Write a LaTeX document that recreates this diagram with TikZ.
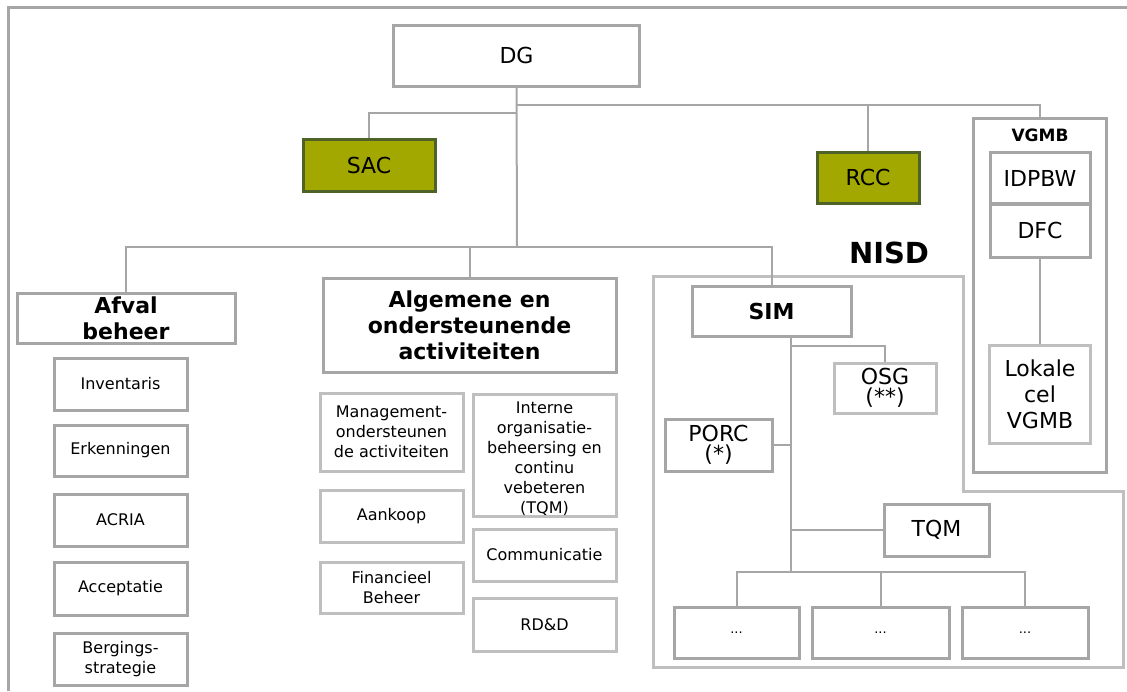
\documentclass[tikz,border=0pt]{standalone}
\usepackage{fontspec}
\setmainfont{DejaVu Sans}
\definecolor{gmid}{HTML}{A6A6A6}
\definecolor{glight}{HTML}{BFBFBF}
\definecolor{olive}{HTML}{A2A800}
\definecolor{olivedark}{HTML}{4F6228}
\tikzset{
  box/.style={draw=gmid, line width=3pt, fill=white, inner sep=0pt, align=center},
  lbox/.style={box, draw=glight},
  big/.style={font=\fontsize{22}{26}\selectfont},
  bigb/.style={font=\fontsize{22}{26}\selectfont\bfseries},
  small/.style={font=\fontsize{16}{20}\selectfont},
  accent/.style={draw=olivedark, line width=3pt, fill=olive, inner sep=0pt, font=\fontsize{22}{26}\selectfont},
  conn/.style={draw=gmid, line width=2pt},
  frame/.style={draw=gmid, line width=3pt},
  nisdframe/.style={draw=glight, line width=3pt},
}
\begin{document}
\begin{tikzpicture}[x=1pt,y=-1pt]
\useasboundingbox (0,0) rectangle (1127,691);
% outer frame
\draw[frame] (8,691) -- (8,7) -- (1127,7);
% NISD frame
\draw[nisdframe] (653,276) -- (963,276) -- (963,491) -- (1123,491) -- (1123,667) -- (653,667) -- cycle;
\node[font=\fontsize{29}{32}\selectfont\bfseries] (nisdlbl) at (889,253) {NISD};
% VGMB frame
\node[box, minimum width=133pt, minimum height=354pt] (vgmb) at (1039.5,295) {};
\node[font=\fontsize{17}{20}\selectfont\bfseries] (vgmblbl) at (1040,135) {VGMB};
\node[box, big, minimum width=100pt, minimum height=51pt] (idp) at (1040,178) {IDPBW};
\node[box, big, minimum width=100pt, minimum height=53pt] (dfc) at (1040,230.5) {DFC};
\node[lbox, big, minimum width=101pt, minimum height=98pt] (lok) at (1040,394) {Lokale\\cel\\VGMB};
% top level
\node[box, big, minimum width=246pt, minimum height=61pt] (dg) at (516.5,55.5) {DG};
\node[accent, minimum width=132pt, minimum height=52pt] (sac) at (369,165) {SAC};
\node[accent, minimum width=102pt, minimum height=51pt] (rcc) at (868,177.5) {RCC};
% second level
\node[box, bigb, minimum width=218pt, minimum height=50pt] (afval) at (126,318) {Afval\\beheer};
\node[box, bigb, minimum width=293pt, minimum height=94pt] (alg) at (469.5,325) {Algemene en\\ondersteunende\\activiteiten};
\node[box, bigb, minimum width=159pt, minimum height=50pt] (sim) at (771.5,311) {SIM};
% Afval beheer children
\node[box, small, minimum width=133pt, minimum height=52pt] (inv) at (120.5,384) {Inventaris};
\node[box, small, minimum width=133pt, minimum height=51pt] (erk) at (120.5,450.5) {Erkenningen};
\node[box, small, minimum width=133pt, minimum height=52pt] (acria) at (120.5,520) {ACRIA};
\node[box, small, minimum width=133pt, minimum height=53pt] (acc) at (120.5,588.5) {Acceptatie};
\node[box, small, minimum width=133pt, minimum height=52pt] (berg) at (120.5,659) {Bergings-\\strategie};
% Algemene children
\node[lbox, small, minimum width=143pt, minimum height=78pt] (mgmt) at (391.5,432) {Management-\\ondersteunen\\de activiteiten};
\node[lbox, small, minimum width=143pt, minimum height=52pt] (aank) at (391.5,516) {Aankoop};
\node[lbox, small, minimum width=143pt, minimum height=51pt] (fin) at (391.5,587.5) {Financieel\\Beheer};
\node[lbox, minimum width=143pt, minimum height=122pt] (intern) at (544.5,455) {};
\node[small, align=center, inner sep=0pt] (interntxt) at (544.5,459) {Interne\\organisatie-\\beheersing en\\continu\\vebeteren\\(TQM)};
\node[lbox, small, minimum width=143pt, minimum height=52pt] (comm) at (544.5,555) {Communicatie};
\node[lbox, small, minimum width=143pt, minimum height=53pt] (rdd) at (544.5,624.5) {RD\&D};
% SIM children
\node[lbox, big, minimum width=102pt, minimum height=50pt] (osg) at (885,388) {OSG\\[-6pt](**)};
\node[box, big, minimum width=107pt, minimum height=52pt] (porc) at (718.5,445) {PORC\\[-6pt](*)};
\node[box, big, minimum width=105pt, minimum height=52pt] (tqm) at (936.5,530) {TQM};
\node[box, font=\fontsize{13}{16}\selectfont, minimum width=125pt, minimum height=51pt] (d1) at (736.5,632.5) {...};
\node[box, font=\fontsize{13}{16}\selectfont, minimum width=137pt, minimum height=51pt] (d2) at (880.5,632.5) {...};
\node[box, font=\fontsize{13}{16}\selectfont, minimum width=126pt, minimum height=51pt] (d3) at (1025,632.5) {...};
% junction coordinates
\coordinate (j1) at (517,247);
\coordinate (j2) at (517,113);
\coordinate (j3) at (517,105);
\coordinate (sb) at (791,572);
\coordinate (so) at (791,346);
% connectors
\draw[conn] (dg.south) -- (j1);
\draw[conn] (j2) -| (sac.north);
\draw[conn] (j3) -| (vgmb.north);
\draw[conn] (rcc.north) -- (rcc.north |- j3);
\draw[conn] (afval.north) |- (j1);
\draw[conn] (j1) -| (sim.north);
\draw[conn] (alg.north) -- (alg.north |- j1);
\draw[conn] (dfc.south) -- (lok.north);
\draw[conn] (sim.south -| sb) -- (sb);
\draw[conn] (so) -| (osg.north);
\draw[conn] (porc.east) -- (porc.east -| sb);
\draw[conn] (tqm.west) -- (tqm.west -| sb);
\draw[conn] (d1.north) |- (d3.north |- sb) -- (d3.north);
\draw[conn] (d2.north) -- (d2.north |- sb);
\end{tikzpicture}
\end{document}
